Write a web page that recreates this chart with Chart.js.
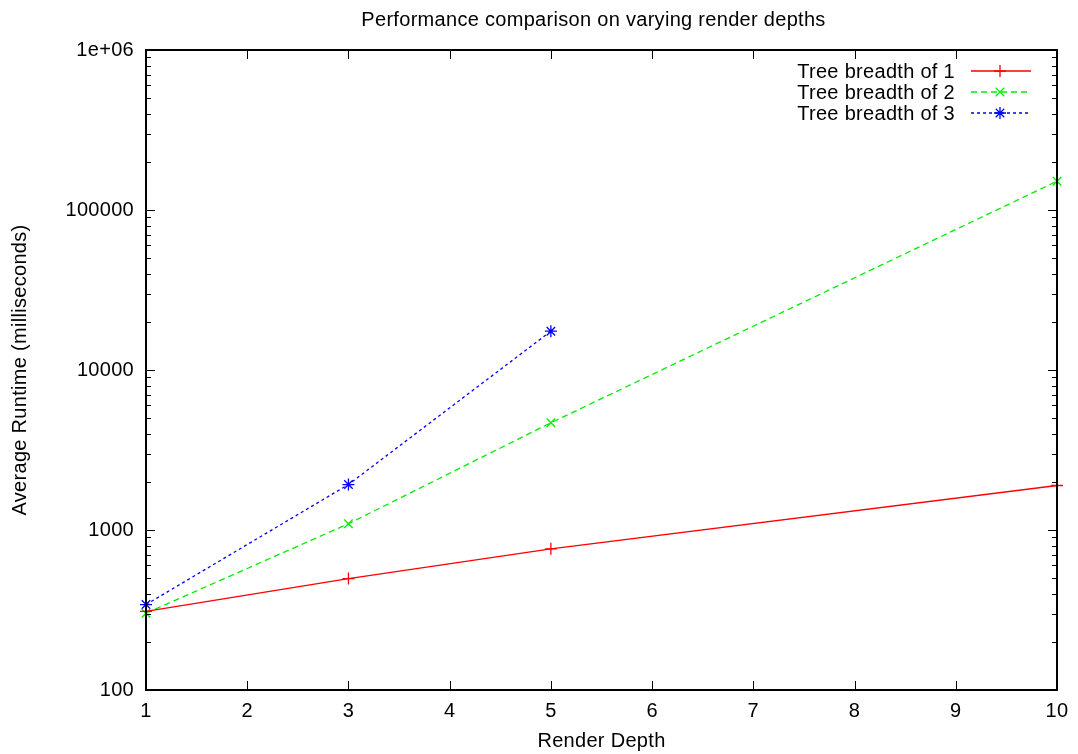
<!DOCTYPE html>
<html>
<head>
<meta charset="utf-8">
<title>Performance comparison on varying render depths</title>
<script src="https://cdn.jsdelivr.net/npm/chart.js@4/dist/chart.umd.min.js"></script>
<style>
  html, body { margin: 0; padding: 0; background: #fff; }
  #wrap { width: 1078px; height: 754px; position: relative; }
</style>
</head>
<body>
<div id="wrap"><canvas id="perfChart"></canvas></div>
<script>
// render depths per series
const depths1 = [1, 3, 5, 10];
const depths2 = [1, 3, 5, 10];
const depths3 = [1, 3, 5];

// average runtime (ms)
const runtime1 = [310, 497, 763, 1897];
const runtime2 = [302, 1094, 4677, 151400];
const runtime3 = [342, 1924, 17475];

const seriesLabels = ['Tree breadth of 1', 'Tree breadth of 2', 'Tree breadth of 3'];
const chartTitle = 'Performance comparison on varying render depths';

// tick values / labels
const xTicks = [1, 2, 3, 4, 5, 6, 7, 8, 9, 10];
const yTicks = [100, 1000, 10000, 100000, 1000000];
const yTickLabels = ['100', '1000', '10000', '100000', '1e+06'];

const FONT = "'Liberation Sans', Arial, Helvetica, sans-serif";

function toPoints(xs, ys) {
  return xs.map((x, i) => ({ x: x, y: ys[i] }));
}

// gnuplot style frame: box border, inward ticks mirrored on all sides, legend inside
const gnuplotFrame = {
  id: 'gnuplotFrame',
  beforeDraw(chart) {
    chart.ctx.letterSpacing = '0.3px';
  },
  afterDatasetsDraw(chart) {
    const ctx = chart.ctx;
    const a = chart.chartArea;
    const xs = chart.scales.x;
    const ys = chart.scales.y;
    ctx.save();
    ctx.strokeStyle = '#000';

    // ticks
    ctx.lineWidth = 1;
    ctx.beginPath();
    xTicks.forEach(v => {
      const px = Math.round(xs.getPixelForValue(v)) + 0.5;
      ctx.moveTo(px, a.bottom); ctx.lineTo(px, a.bottom - 9);
      ctx.moveTo(px, a.top); ctx.lineTo(px, a.top + 9);
    });
    yTicks.forEach((v, i) => {
      const py = Math.round(ys.getPixelForValue(v)) + 0.5;
      ctx.moveTo(a.left, py); ctx.lineTo(a.left + 9, py);
      ctx.moveTo(a.right, py); ctx.lineTo(a.right - 9, py);
      if (i < yTicks.length - 1) {
        for (let m = 2; m <= 9; m++) {
          const pm = Math.round(ys.getPixelForValue(v * m)) + 0.5;
          ctx.moveTo(a.left, pm); ctx.lineTo(a.left + 5, pm);
          ctx.moveTo(a.right, pm); ctx.lineTo(a.right - 5, pm);
        }
      }
    });
    ctx.stroke();

    // border
    ctx.lineWidth = 2;
    ctx.strokeRect(a.left, a.top, a.right - a.left, a.bottom - a.top);

    // title, centred over the plot area like gnuplot
    ctx.font = '20px ' + FONT;
    ctx.fillStyle = '#000';
    ctx.textAlign = 'center';
    ctx.textBaseline = 'middle';
    ctx.fillText(chartTitle, (a.left + a.right) / 2 - 8, 20);

    // legend
    ctx.textAlign = 'right';
    chart.data.datasets.forEach((ds, i) => {
      const y = a.top + 21 + i * 21;
      ctx.fillText(ds.label, a.right - 102, y + 1);
      ctx.save();
      ctx.strokeStyle = ds.borderColor;
      ctx.lineWidth = ds.borderWidth;
      ctx.setLineDash(ds.borderDash || []);
      ctx.beginPath();
      ctx.moveTo(a.right - 86, y);
      ctx.lineTo(a.right - 26, y);
      ctx.stroke();
      ctx.setLineDash([]);
      ctx.fillStyle = ds.borderColor;
      Chart.helpers.drawPoint(ctx, {
        pointStyle: ds.pointStyle,
        radius: ds.pointRadius,
        rotation: 0,
        borderWidth: ds.pointBorderWidth
      }, a.right - 57, y);
      ctx.restore();
    });
    ctx.restore();
  }
};

Chart.defaults.color = '#000';
Chart.defaults.font.family = FONT;
Chart.defaults.font.size = 20;

new Chart(document.getElementById('perfChart'), {
  type: 'line',
  data: {
    datasets: [
      {
        label: seriesLabels[0],
        data: toPoints(depths1, runtime1),
        borderColor: '#ff0000',
        borderWidth: 1.3,
        pointStyle: 'cross',
        pointRadius: 6,
        pointBorderWidth: 1.3,
        pointBorderColor: '#ff0000',
        fill: false,
        clip: false,
        tension: 0
      },
      {
        label: seriesLabels[1],
        data: toPoints(depths2, runtime2),
        borderColor: '#00ee00',
        borderWidth: 1.3,
        borderDash: [6, 4],
        pointStyle: 'crossRot',
        pointRadius: 6,
        pointBorderWidth: 1.3,
        pointBorderColor: '#00ee00',
        fill: false,
        clip: false,
        tension: 0
      },
      {
        label: seriesLabels[2],
        data: toPoints(depths3, runtime3),
        borderColor: '#0000ff',
        borderWidth: 1.3,
        borderDash: [3, 3],
        pointStyle: 'star',
        pointRadius: 6,
        pointBorderWidth: 1.3,
        pointBorderColor: '#0000ff',
        fill: false,
        clip: false,
        tension: 0
      }
    ]
  },
  options: {
    responsive: true,
    maintainAspectRatio: false,
    animation: false,
    layout: { padding: { left: 0, right: 21, top: 50, bottom: 0 } },
    plugins: {
      legend: { display: false },
      tooltip: { enabled: false },
      title: { display: false }
    },
    scales: {
      x: {
        type: 'linear',
        min: 1,
        max: 10,
        afterFit: s => { s.height = 64; },
        afterBuildTicks: s => { s.ticks = xTicks.map(v => ({ value: v })); },
        grid: { display: false, drawTicks: false },
        border: { display: false },
        ticks: { padding: 9, maxRotation: 0, autoSkip: false },
        title: {
          display: true,
          text: 'Render Depth',
          padding: { top: 0, bottom: 1 }
        }
      },
      y: {
        type: 'logarithmic',
        min: 100,
        max: 1000000,
        afterFit: s => { s.width = 146; },
        afterBuildTicks: s => { s.ticks = yTicks.map(v => ({ value: v })); },
        grid: { display: false, drawTicks: false },
        border: { display: false },
        ticks: {
          padding: 12,
          autoSkip: false,
          callback: (v) => {
            const i = yTicks.indexOf(v);
            return i >= 0 ? yTickLabels[i] : '';
          }
        },
        title: {
          display: true,
          text: 'Average Runtime (milliseconds)',
          padding: { top: 8, bottom: 0 }
        }
      }
    }
  },
  plugins: [gnuplotFrame]
});
</script>
</body>
</html>
